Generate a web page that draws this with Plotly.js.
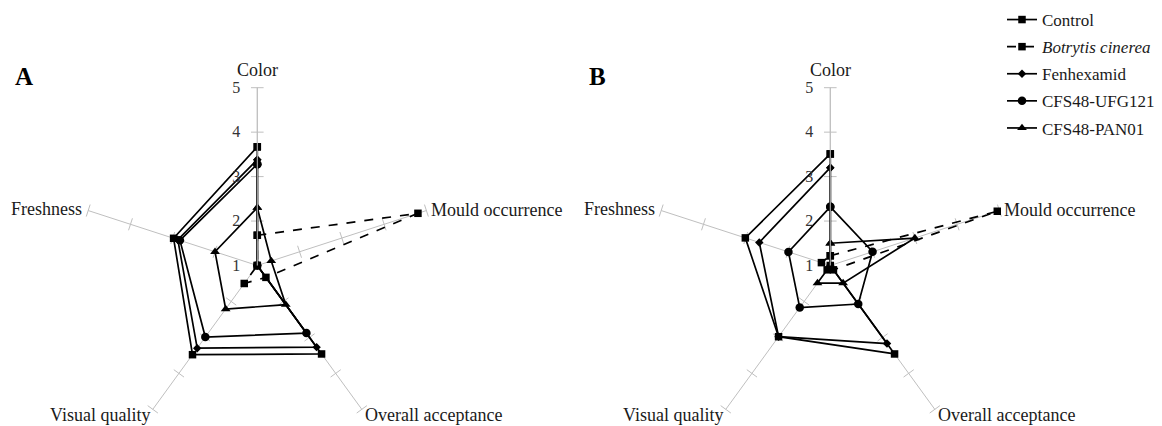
<!DOCTYPE html>
<html>
<head>
<meta charset="utf-8">
<script src="https://cdn.plot.ly/plotly-3.0.1.min.js"></script>
<style>
html,body{margin:0;padding:0;background:#fff;overflow:hidden;}
#chart{width:1162px;height:460px;}
</style>
</head>
<body>
<div id="chart"></div>
<script>
// ---- data ----
var categories = ['Color', 'Mould occurrence', 'Overall acceptance', 'Visual quality', 'Freshness'];
var radialTicks = [1, 2, 3, 4, 5];
var seriesNames = ['Control', '<i>Botrytis cinerea</i>', 'Fenhexamid', 'CFS48-UFG121', 'CFS48-PAN01'];
var panelLabels = ['A', 'B'];

// Panel A
var controlA   = [3.67, 1.00, 3.46, 3.48, 2.98];
var botrytisA  = [1.68, 4.80, 1.33, 1.50, 1.00];
var fenhexA    = [3.38, 1.00, 3.27, 3.30, 2.88];
var ufg121A    = [3.28, 1.00, 2.88, 2.99, 2.83];
var pan01A     = [2.30, 1.33, 2.09, 2.21, 2.00];

// Panel B
var controlB   = [3.51, 1.00, 3.46, 2.98, 3.01];
var botrytisB  = [1.22, 4.95, 1.12, 1.12, 1.21];
var fenhexB    = [3.20, 1.00, 3.17, 2.98, 2.68];
var ufg121B    = [2.32, 2.00, 2.07, 2.17, 1.99];
var pan01B     = [1.50, 3.00, 1.49, 1.49, 1.00];

// ---- styles ----
var FONT = '"Liberation Serif", "Times New Roman", Times, serif';
var GRAY = '#bfbfbf';
var TXT = '#1a1a1a';
var styles = [
  {symbol: 'square', size: 7.5, dash: 'solid'},
  {symbol: 'square', size: 7.5, dash: 'dash'},
  {symbol: 'diamond', size: 6.5, dash: 'solid'},
  {symbol: 'circle', size: 8.5, dash: 'solid'},
  {symbol: 'triangle-up', size: 8.5, dash: 'solid'}
];

function closeLoop(arr) { return arr.concat([arr[0]]); }

function spokeTicks(subplot) {
  var r = [], th = [], ang = [];
  categories.forEach(function (c, i) {
    radialTicks.slice(1).forEach(function (v) {
      r.push(v); th.push(c); ang.push(i * 360 / categories.length);
    });
  });
  return {
    type: 'scatterpolar', subplot: subplot, mode: 'markers',
    r: r, theta: th, showlegend: false, hoverinfo: 'skip', cliponaxis: false,
    marker: {symbol: 'line-ew', size: 9, angle: ang, color: GRAY, line: {color: GRAY, width: 1}}
  };
}

function seriesTraces(subplot, sets, showLegend) {
  return sets.map(function (vals, i) {
    var s = styles[i];
    return {
      type: 'scatterpolar', subplot: subplot, mode: 'lines+markers',
      name: seriesNames[i], legendgroup: 'g' + i, showlegend: showLegend,
      r: closeLoop(vals), theta: closeLoop(categories), cliponaxis: false,
      line: {color: '#000', width: 1.7, dash: s.dash},
      marker: {symbol: s.symbol, size: s.size, color: '#000'}
    };
  });
}

var data = [spokeTicks('polar'), spokeTicks('polar2')]
  .concat(seriesTraces('polar', [controlA, botrytisA, fenhexA, ufg121A, pan01A], true))
  .concat(seriesTraces('polar2', [controlB, botrytisB, fenhexB, ufg121B, pan01B], false));

var W = 1162, H = 460, R = 177.8, CY = 265.5;
var centersX = [257.3, 830.3];
function dom(cx) {
  return {
    x: [(cx - R) / W, (cx + R) / W],
    y: [(H - CY - R) / H, (H - CY + R) / H]
  };
}
function polarCfg(cx) {
  return {
    domain: dom(cx),
    bgcolor: '#fff',
    angularaxis: {
      type: 'category', categoryarray: categories, direction: 'clockwise', rotation: 90,
      showline: false, showgrid: true, gridcolor: GRAY, gridwidth: 1, ticks: '',
      showticklabels: false
    },
    radialaxis: {
      range: [1, 5], tickvals: radialTicks, showgrid: false, showline: true,
      linecolor: GRAY, linewidth: 1, ticks: 'outside', ticklen: 11, tickcolor: 'rgba(0,0,0,0)',
      angle: 90, side: 'counterclockwise', tickangle: 90,
      tickfont: {family: FONT, size: 16, color: '#333'}
    }
  };
}

// category label placement around each radar (offsets in px from the radar centre)
var labelPos = [
  {dx: 0, dy: -195, xa: 'center'},
  {dx: 172, dy: -55, xa: 'left'},
  {dx: 106, dy: 149, xa: 'left'},
  {dx: -105, dy: 149, xa: 'right'},
  {dx: -173, dy: -57, xa: 'right'}
];

var annotations = [];
centersX.forEach(function (cx, p) {
  categories.forEach(function (c, i) {
    var lp = labelPos[i];
    annotations.push({
      text: c, xref: 'paper', yref: 'paper', showarrow: false,
      x: (cx + lp.dx) / W, y: (H - (CY + lp.dy)) / H, xanchor: lp.xa, yanchor: 'middle',
      font: {family: FONT, size: 18, color: TXT}
    });
  });
  annotations.push({
    text: '<b>' + panelLabels[p] + '</b>', xref: 'paper', yref: 'paper', showarrow: false,
    x: (cx - 233) / W, y: (H - 76) / H, xanchor: 'center', yanchor: 'middle',
    font: {family: FONT, size: 25, color: '#000'}
  });
});

var layout = {
  width: W, height: H,
  margin: {l: 0, r: 0, t: 0, b: 0},
  paper_bgcolor: '#fff',
  font: {family: FONT, color: TXT},
  polar: polarCfg(centersX[0]),
  polar2: polarCfg(centersX[1]),
  showlegend: true,
  legend: {
    x: 1002 / W, y: 1 - 2 / H, xanchor: 'left', yanchor: 'top',
    font: {family: FONT, size: 17, color: TXT},
    tracegroupgap: 2, bgcolor: 'rgba(0,0,0,0)'
  },
  annotations: annotations
};

Plotly.newPlot('chart', data, layout, {staticPlot: true, displayModeBar: false});
</script>
</body>
</html>
